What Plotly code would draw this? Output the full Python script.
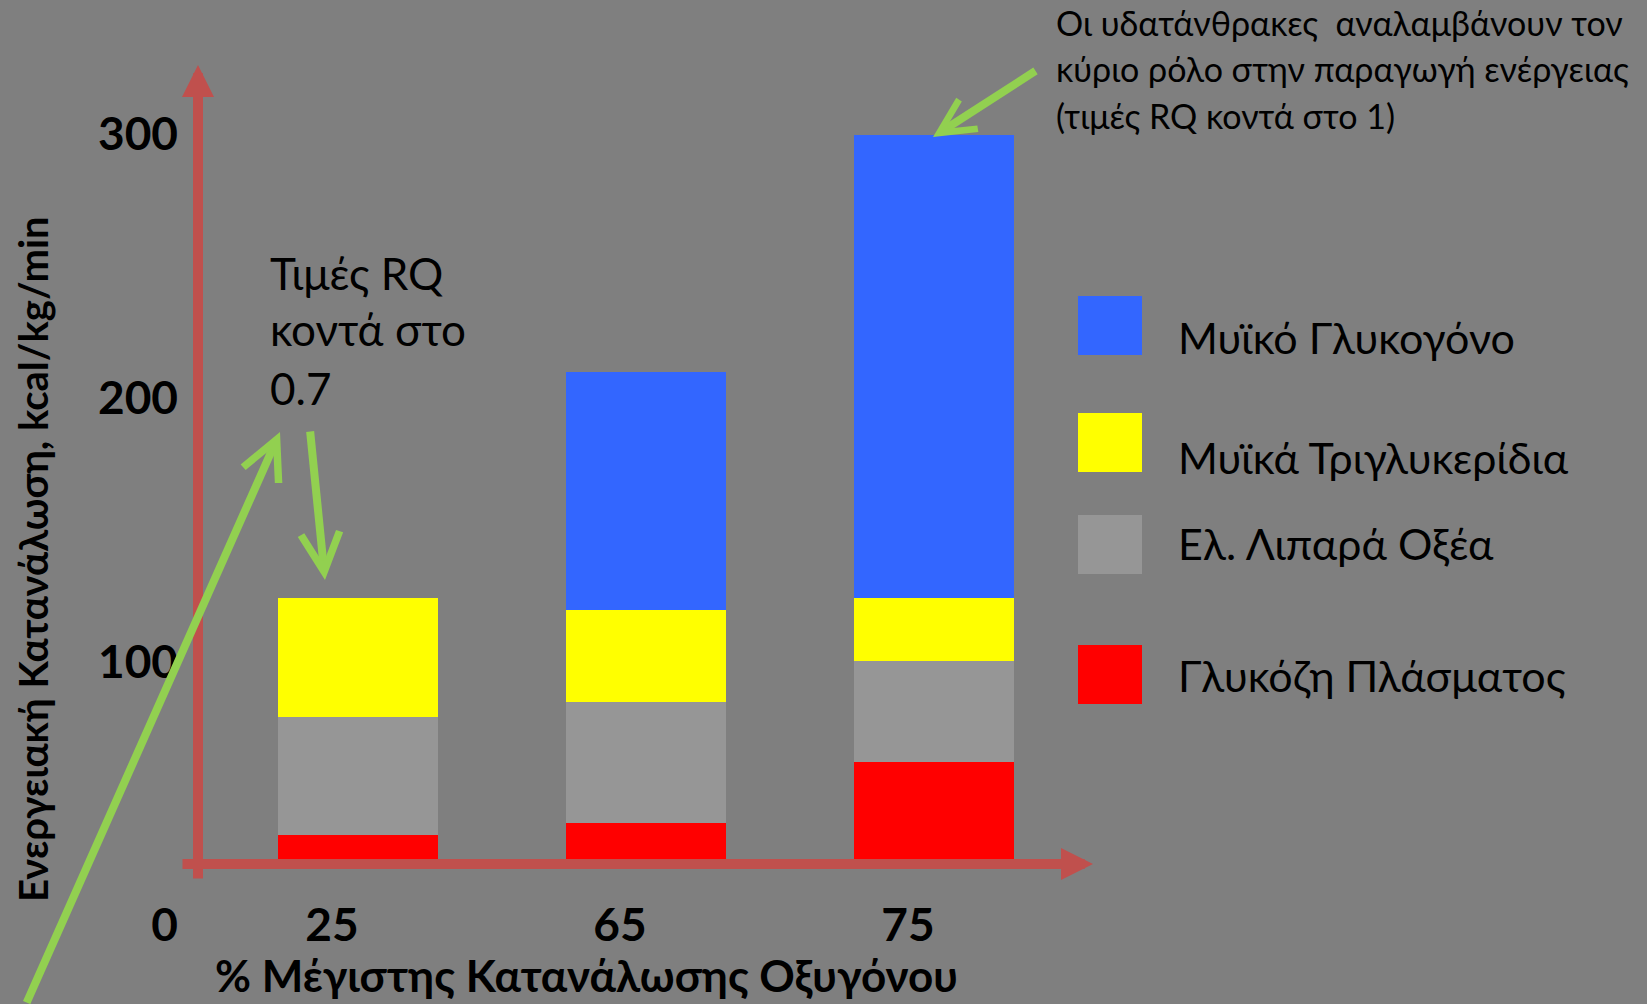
import plotly.graph_objects as go

W, H = 1647, 1004

# ---- data -------------------------------------------------------------
categories = ["25", "65", "75"]  # % of VO2max
series_names = [
    "Γλυκόζη Πλάσματος",
    "Ελ. Λιπαρά Οξέα",
    "Μυϊκά Τριγλυκερίδια",
    "Μυϊκό Γλυκογόνο",
]
plasma_glucose = [10, 15, 40]
free_fatty_acids = [49, 50, 42]
muscle_triglycerides = [49, 38, 26]
muscle_glycogen = [0, 99, 192]
y_tick_values = [0, 100, 200, 300]

# ---- styling ----------------------------------------------------------
BG = "#7F7F7F"
series_colors = ["#FF0000", "#969696", "#FFFF00", "#3366FF"]
AXIS_RED = "#C0504D"
GREEN = "#92D050"
FONT = "Lato"


def px_x(x):
    return x / W


def px_y(y):
    return 1 - y / H


fig = go.Figure()

series_values = [plasma_glucose, free_fatty_acids, muscle_triglycerides, muscle_glycogen]
for name, vals, col in zip(series_names, series_values, series_colors):
    fig.add_trace(
        go.Bar(
            x=categories,
            y=vals,
            name=name,
            marker=dict(color=col, line=dict(width=0)),
            width=0.556,
            showlegend=False,
            hoverinfo="skip",
        )
    )

# bar scale: zero sits on the horizontal arrow, 300 at the top of the tallest bar
bar_px_per_unit = (859 - 135) / 300
bar_range = [-(H - 859) / bar_px_per_unit, 300 + 135 / bar_px_per_unit]

# label scale used by the printed tick numbers
lab_px_per_unit = 2.637
lab_zero = 925.3
lab_range = [-(H - lab_zero) / lab_px_per_unit, (lab_zero) / lab_px_per_unit]

cat_px = 288.0
cat_first = 358.0
x_range = [-cat_first / cat_px, -cat_first / cat_px + W / cat_px]

tick_font = dict(family=FONT, size=46, color="black", weight="bold")

fig.update_layout(
    width=W,
    height=H,
    autosize=False,
    margin=dict(l=0, r=0, t=0, b=0),
    paper_bgcolor=BG,
    plot_bgcolor=BG,
    barmode="stack",
    bargap=0,
    showlegend=False,
    xaxis=dict(
        type="category",
        range=x_range,
        domain=[0, 1],
        anchor="free",
        position=px_y(894),
        showgrid=False,
        zeroline=False,
        showline=False,
        ticks="",
        tickfont=tick_font,
        ticklabelshift=-26,
        fixedrange=True,
    ),
    yaxis=dict(
        range=bar_range,
        domain=[0, 1],
        visible=False,
        fixedrange=True,
    ),
    yaxis2=dict(
        overlaying="y",
        anchor="free",
        position=px_x(178),
        side="left",
        range=lab_range,
        tickmode="array",
        tickvals=y_tick_values,
        ticktext=[str(v) for v in y_tick_values],
        showgrid=False,
        zeroline=False,
        showline=False,
        ticks="",
        tickfont=tick_font,
        fixedrange=True,
    ),
)

# empty trace so the label axis is laid out
fig.add_trace(go.Scatter(x=[], y=[], yaxis="y2", showlegend=False, hoverinfo="skip"))


def arrow(tail, head, color, width, headstyle, size):
    fig.add_annotation(
        x=px_x(head[0]),
        y=px_y(head[1]),
        xref="paper",
        yref="paper",
        ax=tail[0] - head[0],
        ay=tail[1] - head[1],
        axref="pixel",
        ayref="pixel",
        text="",
        showarrow=True,
        arrowhead=headstyle,
        arrowsize=size,
        arrowwidth=width,
        arrowcolor=color,
    )


# axis arrows
arrow((198, 880), (198, 65), AXIS_RED, 10, 2, 0.64)
arrow((181, 864), (1093, 864), AXIS_RED, 10, 2, 0.64)

# pointer arrows
arrow((26, 1012), (280, 432), GREEN, 8, 5, 0.95)
arrow((310, 430), (325, 580), GREEN, 8, 5, 0.95)
arrow((1037, 70), (933, 137), GREEN, 8, 5, 0.85)


def label(text, x, y, size, bold=False, angle=0, xanchor="left"):
    fig.add_annotation(
        x=px_x(x),
        y=px_y(y),
        xref="paper",
        yref="paper",
        text=text,
        showarrow=False,
        xanchor=xanchor,
        yanchor="middle",
        textangle=angle,
        font=dict(family=FONT, size=size, color="black", weight="bold" if bold else "normal"),
    )


# axis titles
label("Ενεργειακή Κατανάλωση, kcal/kg/min", 33, 559, 40, bold=True, angle=-90, xanchor="center")
label("% Μέγιστης Κατανάλωσης Οξυγόνου", 586, 975, 44, bold=True, xanchor="center")

# notes
note_lines = [
    "Οι υδατάνθρακες  αναλαμβάνουν τον",
    "κύριο ρόλο στην παραγωγή ενέργειας",
    "(τιμές RQ κοντά στο 1)",
]
for line, yc in zip(note_lines, [23, 69, 115]):
    label(line, 1054, yc, 34)

rq_lines = ["Τιμές RQ", "κοντά στο", "0.7"]
for line, yc in zip(rq_lines, [273, 329, 388]):
    label(line, 268, yc, 44)

# legend: swatches and names, top to bottom
legend_order = [3, 2, 1, 0]
swatch_tops = [296, 413, 515, 645]
text_centers = [338, 457, 543, 675]
for idx, top, tc in zip(legend_order, swatch_tops, text_centers):
    fig.add_shape(
        type="rect",
        xref="paper",
        yref="paper",
        x0=px_x(1078),
        x1=px_x(1142),
        y0=px_y(top),
        y1=px_y(top + 59),
        fillcolor=series_colors[idx],
        line=dict(width=0),
        layer="above",
    )
    label(series_names[idx], 1176, tc, 43)

fig.write_html("out.html", config={"displayModeBar": False})
